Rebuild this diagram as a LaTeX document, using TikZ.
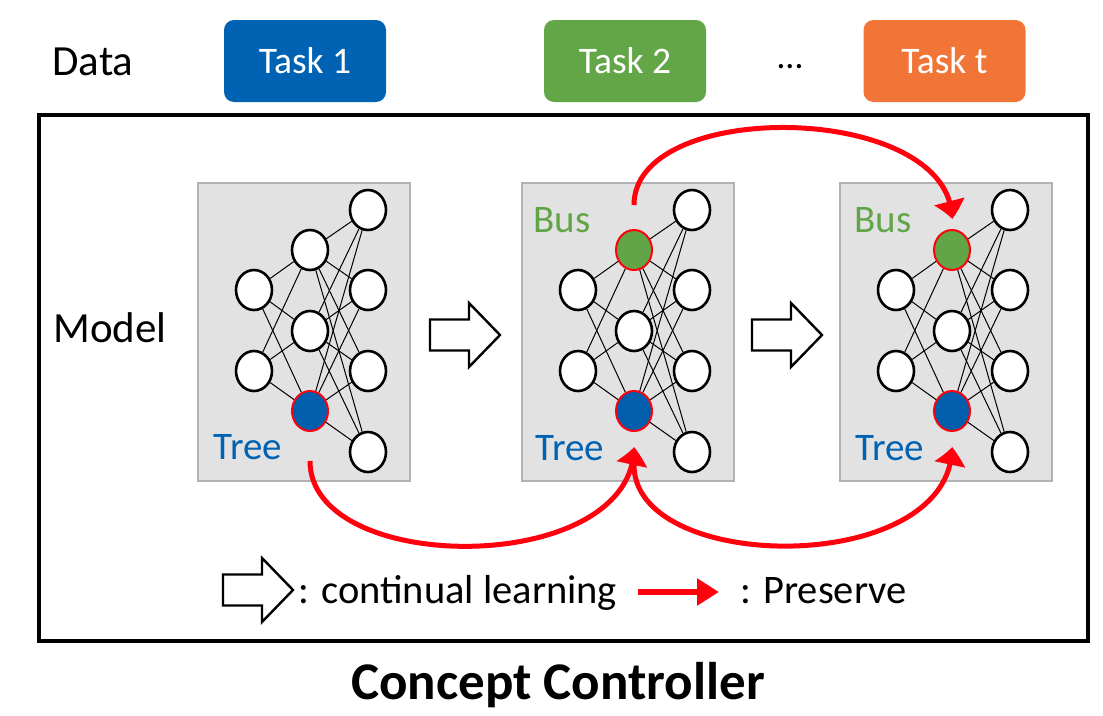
\documentclass[tikz,border=0pt]{standalone}
\usepackage{fontspec}
\setmainfont{Carlito}
\usetikzlibrary{arrows.meta,shapes.geometric,bending}
\definecolor{tblue}{RGB}{0,98,178}
\definecolor{tgreen}{RGB}{98,166,71}
\definecolor{torange}{RGB}{240,117,55}
\definecolor{nblue}{RGB}{0,94,172}
\definecolor{ngreen}{RGB}{97,165,72}
\definecolor{pred}{RGB}{255,0,12}
\definecolor{pgray}{RGB}{227,226,227}
\definecolor{pborder}{RGB}{178,178,178}
\tikzset{
  neuron/.style={ellipse, draw=black, line width=2.6pt, fill=white,
    minimum width=36pt, minimum height=40pt, inner sep=0pt},
  busn/.style={neuron, fill=ngreen, draw=pred, line width=2pt},
  treen/.style={neuron, fill=nblue, draw=pred, line width=2pt},
  conn/.style={line width=1pt, black},
  panelbox/.style={draw=pborder, line width=1.2pt, fill=pgray,
    minimum width=212pt, minimum height=298pt, inner sep=0pt},
  task/.style={rounded corners=10pt, minimum width=162pt, minimum height=82pt,
    text=white, font=\fontsize{37.5}{42}\selectfont, inner sep=0pt},
  lbl/.style={font=\fontsize{43}{48}\selectfont, inner sep=0pt},
  legend/.style={font=\fontsize{40.5}{46}\selectfont, inner sep=0pt},
  treelbl/.style={text=tblue, font=\fontsize{39}{44}\selectfont, inner sep=0pt},
  buslbl/.style={text=ngreen, font=\fontsize{39}{44}\selectfont, inner sep=0pt},
  hollow/.style={draw=black, line width=2.4pt, fill=white, line join=miter},
  preserve/.style={draw=pred, line width=5pt,
    -{Triangle[length=18pt,width=30pt,bend]}},
}
\newcommand\netpanel[4]{%
  \node[panelbox] (#1box) at (#2+106, 332) {};
  \node[neuron] (#1i1) at (#2+56, 290) {};
  \node[neuron] (#1i2) at (#2+56, 371) {};
  \node[#3] (#1h1) at (#2+112, 250) {};
  \node[neuron] (#1h2) at (#2+112, 331) {};
  \node[#4] (#1h3) at (#2+112, 411) {};
  \node[neuron] (#1o1) at (#2+170, 210) {};
  \node[neuron] (#1o2) at (#2+170, 290) {};
  \node[neuron] (#1o3) at (#2+170, 371) {};
  \node[neuron] (#1o4) at (#2+170, 452) {};
  \foreach \a in {i1,i2}{\foreach \b in {h1,h2,h3}{\draw[conn] (#1\a) -- (#1\b);}}
  \foreach \a in {h1,h2,h3}{\foreach \b in {o1,o2,o3,o4}{\draw[conn] (#1\a) -- (#1\b);}}
}
\newcommand\hollowarrow[3]{% name, left x, center y
  \draw[hollow] (#2,#3-15.5) -- (#2+39,#3-15.5) -- (#2+39,#3-32) -- (#2+70,#3)
    -- (#2+39,#3+32) -- (#2+39,#3+15.5) -- (#2,#3+15.5) -- cycle;
  \coordinate (#1) at (#2+35,#3);
}
\begin{document}
\begin{tikzpicture}[x=1pt,y=-1pt]
\useasboundingbox (0,0) rectangle (1103,715);
% data row
\node[lbl] (data) at (93,62) {Data};
\node[task, fill=tblue] (t1) at (305,61) {Task 1};
\node[task, fill=tgreen] (t2) at (625,61) {Task 2};
\node[font=\fontsize{36}{40}\selectfont, inner sep=0pt] (dots) at (790,67) {\ldots};
\node[task, fill=torange] (tt) at (944.5,61) {Task t};
% frame
\draw[line width=4.5pt] (39,115) rectangle (1088,641);
\node[lbl] (model) at (110,328) {Model};
% panels
\netpanel{a}{198}{neuron}{treen}
\netpanel{b}{522}{busn}{treen}
\netpanel{c}{840}{busn}{treen}
\node[treelbl] (atree) at (248,447) {Tree};
\node[treelbl] (btree) at (570,448) {Tree};
\node[treelbl] (ctree) at (890,448) {Tree};
\node[buslbl] (bbus) at (562,220) {Bus};
\node[buslbl] (cbus) at (883,220) {Bus};
% continual learning arrows
\hollowarrow{cl1}{430}{335}
\hollowarrow{cl2}{752}{335}
% preserve arrows
\coordinate (s1) at ([yshift=-29pt]ah3.south);
\coordinate (e1) at ([yshift=-15pt]bh3.south);
\coordinate (s2) at ([yshift=-33pt]bh3.south);
\coordinate (e2) at ([yshift=-15pt]ch3.south);
\coordinate (s3) at ([yshift=24pt]bh1.north);
\coordinate (e3) at ([yshift=10pt]ch1.north);
\draw[preserve] (s1) .. controls +(0,116) and +(0,130) .. (e1);
\draw[preserve] (s2) .. controls +(0,110) and +(0,130) .. (e2);
\draw[preserve] (s3) .. controls +(0,-108) and +(0,-117) .. (e3);
% legend
\hollowarrow{lg}{223}{590}
\node[legend, anchor=base west] (cltext) at (298,603) {: continual learning};
\coordinate (ra) at (638,592);
\coordinate (rb) at (719,592);
\draw[draw=pred, line width=6pt, -{Triangle[length=22pt,width=26pt]}] (ra) -- (rb);
\node[legend, anchor=base west] (prtext) at (740,603) {: Preserve};
% title
\node[font=\bfseries\fontsize{53}{60}\selectfont, inner sep=0pt, anchor=base] (title) at (558,699) {Concept Controller};
\end{tikzpicture}
\end{document}
